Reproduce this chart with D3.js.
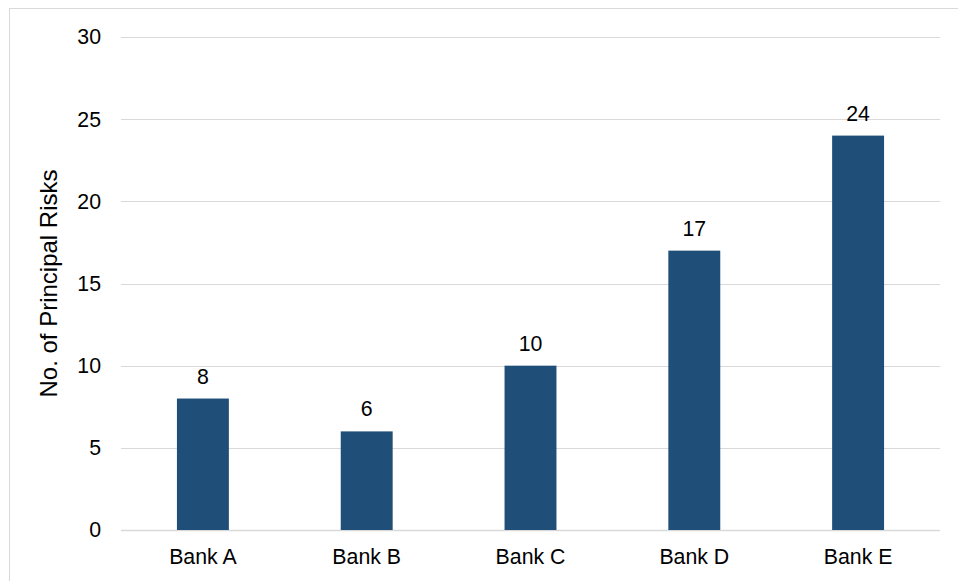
<!DOCTYPE html>
<html>
<head>
<meta charset="utf-8">
<script src="https://cdn.jsdelivr.net/npm/d3@7"></script>
<style>
  body { margin: 0; background: #fff; }
  svg { display: block; font-family: "Liberation Sans", Arial, sans-serif; }
</style>
</head>
<body>
<svg id="chart"></svg>
<script>
const banks = ["Bank A", "Bank B", "Bank C", "Bank D", "Bank E"];
const risks = [8, 6, 10, 17, 24];
const yTicks = [0, 5, 10, 15, 20, 25, 30];

const width = 958;
const height = 581;
const margin = { top: 37, left: 121, bottom: 51, right: 18 };
const innerWidth = width - margin.left - margin.right;
const innerHeight = height - margin.top - margin.bottom;

const svg = d3.select("#chart")
    .attr("width", width)
    .attr("height", height);

// outer frame (right and bottom edges fall outside the picture)
svg.append("rect")
    .attr("x", 9.5)
    .attr("y", 8.5)
    .attr("width", width - 9)
    .attr("height", height - 8)
    .attr("fill", "none")
    .attr("stroke", "#d9d9d9");

const x = d3.scaleBand()
    .domain(banks)
    .range([0, innerWidth]);

const y = d3.scaleLinear()
    .domain([0, 30])
    .range([innerHeight, 0]);

const g = svg.append("g")
    .attr("transform", "translate(" + margin.left + "," + margin.top + ")");

// gridlines
g.selectAll(".grid")
    .data(yTicks)
    .enter()
    .append("line")
    .attr("class", "grid")
    .attr("x1", 0)
    .attr("x2", innerWidth)
    .attr("y1", d => Math.round(y(d)) + 0.5)
    .attr("y2", d => Math.round(y(d)) + 0.5)
    .attr("stroke", "#d9d9d9")
    .attr("stroke-width", d => d === 0 ? 1.5 : 1);

// y tick labels
g.selectAll(".ytick")
    .data(yTicks)
    .enter()
    .append("text")
    .attr("class", "ytick")
    .attr("x", -20)
    .attr("y", d => y(d))
    .attr("dy", "0.35em")
    .attr("text-anchor", "end")
    .attr("font-size", "21.3px")
    .attr("fill", "#000")
    .text(d => d);

// x labels
g.selectAll(".xtick")
    .data(banks)
    .enter()
    .append("text")
    .attr("class", "xtick")
    .attr("x", d => x(d) + x.bandwidth() / 2)
    .attr("y", innerHeight + 33.5)
    .attr("text-anchor", "middle")
    .attr("font-size", "21.3px")
    .attr("fill", "#000")
    .text(d => d);

const barWidth = x.bandwidth() * 0.317;

g.selectAll(".bar")
    .data(risks)
    .enter()
    .append("rect")
    .attr("class", "bar")
    .attr("x", (d, i) => x(banks[i]) + x.bandwidth() / 2 - barWidth / 2)
    .attr("y", d => y(d))
    .attr("width", barWidth)
    .attr("height", d => innerHeight - y(d))
    .attr("fill", "#1f4e79");

g.selectAll(".val")
    .data(risks)
    .enter()
    .append("text")
    .attr("class", "val")
    .attr("x", (d, i) => x(banks[i]) + x.bandwidth() / 2)
    .attr("y", d => y(d) - 15)
    .attr("text-anchor", "middle")
    .attr("font-size", "21.3px")
    .attr("fill", "#000")
    .text(d => d);

// y axis title
svg.append("text")
    .attr("transform", "translate(57," + (margin.top + innerHeight / 2) + ") rotate(-90)")
    .attr("text-anchor", "middle")
    .attr("font-size", "24px")
    .attr("fill", "#000")
    .text("No. of Principal Risks");
</script>
</body>
</html>
